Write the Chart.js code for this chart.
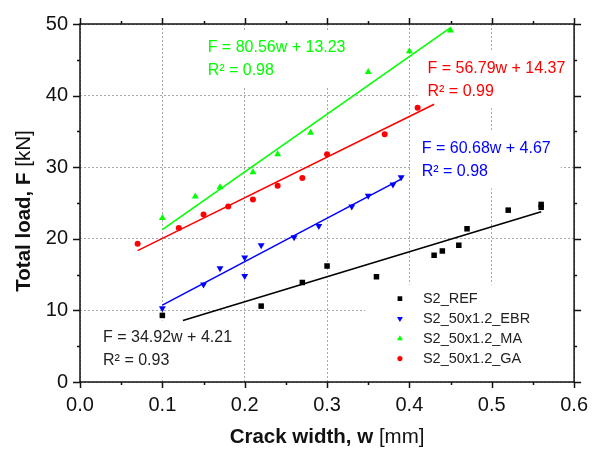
<!DOCTYPE html>
<html>
<head>
<meta charset="utf-8">
<script src="https://cdn.jsdelivr.net/npm/chart.js@4.4.1/dist/chart.umd.min.js"></script>
<style>
  html, body { margin: 0; padding: 0; background: #fff; }
</style>
</head>
<body>
<canvas id="crackChart" width="599" height="457"></canvas>
<script>
// series names, legend order
var seriesNames = ['S2_REF', 'S2_50x1.2_EBR', 'S2_50x1.2_MA', 'S2_50x1.2_GA'];
var seriesColors = ['#000000', '#0000ff', '#00ff00', '#ff0000'];

// measured points: crack width w [mm] / total load F [kN]
var refW = [0.10, 0.22, 0.27, 0.30, 0.36, 0.43, 0.44, 0.46, 0.47, 0.52, 0.56, 0.56];
var refF = [9.3, 10.6, 13.9, 16.2, 14.7, 17.7, 18.3, 19.1, 21.4, 24.0, 24.4, 24.8];

var ebrW = [0.10, 0.15, 0.17, 0.20, 0.20, 0.22, 0.26, 0.29, 0.33, 0.35, 0.38, 0.39];
var ebrF = [10.3, 13.6, 15.9, 14.8, 17.4, 19.1, 20.2, 21.8, 24.5, 26.0, 27.6, 28.6];

var maW = [0.10, 0.14, 0.17, 0.21, 0.24, 0.28, 0.35, 0.40, 0.45];
var maF = [22.9, 25.9, 27.2, 29.3, 31.8, 34.8, 43.3, 46.2, 49.1];

var gaW = [0.07, 0.12, 0.15, 0.18, 0.21, 0.24, 0.27, 0.30, 0.37, 0.41];
var gaF = [19.3, 21.5, 23.4, 24.5, 25.5, 27.4, 28.5, 31.8, 34.6, 38.3];

// linear fits F = a*w + b
var fitSlope = [34.92, 60.68, 80.56, 56.79];
var fitIntercept = [4.21, 4.67, 13.23, 14.37];
var fitR2 = ['0.93', '0.98', '0.98', '0.99'];
var fitFrom = [0.125, 0.10, 0.10, 0.07];
var fitTo = [0.56, 0.39, 0.45, 0.43];

// axis ticks
var xTicks = [0, 0.1, 0.2, 0.3, 0.4, 0.5, 0.6];
var yTicks = [0, 10, 20, 30, 40, 50];

var pointStyles = [
  { style: 'rect', radius: 3.9, rotation: 0 },
  { style: 'triangle', radius: 4, rotation: 180 },
  { style: 'triangle', radius: 4, rotation: 0 },
  { style: 'circle', radius: 3, rotation: 0 }
];

// where the fit equations sit (in data units, left edge / middle of first line)
var eqPos = [
  { w: 0.028, f: 6.2 },
  { w: 0.415, f: 32.6 },
  { w: 0.155, f: 46.7 },
  { w: 0.422, f: 43.8 }
];

function toPoints(ws, fs) {
  var out = [];
  for (var i = 0; i < ws.length; i++) out.push({ x: ws[i], y: fs[i] });
  return out;
}

var allW = [refW, ebrW, maW, gaW];
var allF = [refF, ebrF, maF, gaF];

var datasets = [];
for (var i = 0; i < 4; i++) {
  datasets.push({
    label: seriesNames[i],
    type: 'scatter',
    data: toPoints(allW[i], allF[i]),
    backgroundColor: seriesColors[i],
    borderColor: seriesColors[i],
    borderWidth: 0,
    pointStyle: pointStyles[i].style,
    pointRadius: pointStyles[i].radius,
    pointRotation: pointStyles[i].rotation,
    pointHoverRadius: pointStyles[i].radius,
    order: 1
  });
}
for (var k = 0; k < 4; k++) {
  datasets.push({
    label: 'fit ' + seriesNames[k],
    type: 'line',
    data: [
      { x: fitFrom[k], y: fitSlope[k] * fitFrom[k] + fitIntercept[k] },
      { x: fitTo[k], y: fitSlope[k] * fitTo[k] + fitIntercept[k] }
    ],
    borderColor: seriesColors[k],
    borderWidth: 1.6,
    pointRadius: 0,
    fill: false,
    order: 2
  });
}

// white boxes + fit equations, legend, drawn over the grid but under the data
var labelsPlugin = {
  id: 'labelsPlugin',
  beforeDatasetsDraw: function(chart) {
    var ctx = chart.ctx;
    var xs = chart.scales.x, ys = chart.scales.y;
    ctx.save();
    ctx.font = '16px "Liberation Sans", Arial, sans-serif';
    ctx.textBaseline = 'middle';
    ctx.textAlign = 'left';
    for (var i = 0; i < 4; i++) {
      var px = xs.getPixelForValue(eqPos[i].w);
      var py = ys.getPixelForValue(eqPos[i].f);
      var l1 = 'F = ' + fitSlope[i].toFixed(2) + 'w + ' + fitIntercept[i].toFixed(2);
      var l2 = 'R\u00b2 = ' + fitR2[i];
      var wd = Math.max(ctx.measureText(l1).width, ctx.measureText(l2).width);
      ctx.fillStyle = '#fff';
      ctx.fillRect(px - 10, py - 17, wd + 20, 57);
      ctx.fillStyle = i === 0 ? '#222' : seriesColors[i];
      ctx.fillText(l1, px, py);
      ctx.fillText(l2, px, py + 23);
    }

    // legend
    var lx = xs.getPixelForValue(0.346);
    var ly = ys.getPixelForValue(13.6);
    ctx.fillStyle = '#fff';
    ctx.fillRect(lx, ly, chart.chartArea.right - lx - 1, chart.chartArea.bottom - ly - 1);
    ctx.font = '14.5px "Liberation Sans", Arial, sans-serif';
    var mx = lx + 35, tx = lx + 58, ty = ly + 14;
    for (var j = 0; j < 4; j++) {
      var y = ty + j * 20;
      ctx.fillStyle = seriesColors[j];
      ctx.strokeStyle = seriesColors[j];
      Chart.helpers.drawPoint(ctx, {
        pointStyle: pointStyles[j].style,
        radius: pointStyles[j].radius * 0.85,
        rotation: pointStyles[j].rotation,
        borderWidth: 0
      }, mx, y);
      ctx.fillStyle = '#222';
      ctx.fillText(seriesNames[j], tx, y);
    }
    ctx.restore();
  }
};

// frame, outward ticks on all sides, axis titles with bold/regular parts
var framePlugin = {
  id: 'framePlugin',
  afterDraw: function(chart) {
    var ctx = chart.ctx;
    var a = chart.chartArea;
    var xs = chart.scales.x, ys = chart.scales.y;
    ctx.save();
    ctx.strokeStyle = '#111';
    ctx.lineWidth = 1.5;
    ctx.strokeRect(a.left, a.top, a.right - a.left, a.bottom - a.top);

    ctx.beginPath();
    for (var v = 0; v <= 12; v++) {
      var w = v * 0.05;
      var len = v % 2 === 0 ? 6 : 3;
      var px = Math.round(xs.getPixelForValue(w)) + 0.5;
      ctx.moveTo(px, a.bottom); ctx.lineTo(px, a.bottom + len);
      ctx.moveTo(px, a.top); ctx.lineTo(px, a.top - len);
    }
    for (var u = 0; u <= 10; u++) {
      var f = u * 5;
      var ln = u % 2 === 0 ? 7 : 3;
      var py = Math.round(ys.getPixelForValue(f)) + 0.5;
      ctx.moveTo(a.left, py); ctx.lineTo(a.left - ln, py);
      ctx.moveTo(a.right, py); ctx.lineTo(a.right + ln, py);
    }
    ctx.stroke();

    // x title
    ctx.fillStyle = '#111';
    ctx.textBaseline = 'middle';
    ctx.textAlign = 'left';
    var boldFont = 'bold 20.5px "Liberation Sans", Arial, sans-serif';
    var normFont = '20.5px "Liberation Sans", Arial, sans-serif';
    var b1 = 'Crack width, w ', n1 = '[mm]';
    ctx.font = boldFont; var wb = ctx.measureText(b1).width;
    ctx.font = normFont; var wn = ctx.measureText(n1).width;
    var cx = (a.left + a.right) / 2 - (wb + wn) / 2, cy = 437;
    ctx.font = boldFont; ctx.fillText(b1, cx, cy);
    ctx.font = normFont; ctx.fillText(n1, cx + wb, cy);

    // y title
    var b2 = 'Total load, F ', n2 = '[kN]';
    ctx.font = boldFont; var wb2 = ctx.measureText(b2).width;
    ctx.font = normFont; var wn2 = ctx.measureText(n2).width;
    ctx.translate(24, 211);
    ctx.rotate(-Math.PI / 2);
    var sx = -(wb2 + wn2) / 2;
    ctx.font = boldFont; ctx.fillText(b2, sx, 0);
    ctx.font = normFont; ctx.fillText(n2, sx + wb2, 0);
    ctx.restore();
  }
};

new Chart(document.getElementById('crackChart').getContext('2d'), {
  type: 'scatter',
  data: { datasets: datasets },
  plugins: [labelsPlugin, framePlugin],
  options: {
    responsive: false,
    animation: false,
    devicePixelRatio: 1,
    layout: { padding: { top: 19, right: 24, left: 0, bottom: 0 } },
    plugins: {
      legend: { display: false },
      tooltip: { enabled: false }
    },
    scales: {
      x: {
        type: 'linear',
        min: 0,
        max: 0.6,
        afterFit: function(s) { s.height = 75; },
        afterBuildTicks: function(s) { s.ticks = xTicks.map(function(v) { return { value: v }; }); },
        ticks: {
          padding: 11,
          color: '#111',
          font: { family: '"Liberation Sans", Arial, sans-serif', size: 20 },
          callback: function(v) { return Number(v).toFixed(1); }
        },
        grid: { color: '#a8a8a8', lineWidth: 1, drawTicks: false },
        border: { display: false, dash: [2, 2] }
      },
      y: {
        type: 'linear',
        min: 0,
        max: 50,
        afterFit: function(s) { s.width = 80; },
        afterBuildTicks: function(s) { s.ticks = yTicks.map(function(v) { return { value: v }; }); },
        ticks: {
          padding: 12,
          color: '#111',
          font: { family: '"Liberation Sans", Arial, sans-serif', size: 20 }
        },
        grid: { color: '#a8a8a8', lineWidth: 1, drawTicks: false },
        border: { display: false, dash: [2, 2] }
      }
    }
  }
});
</script>
</body>
</html>
